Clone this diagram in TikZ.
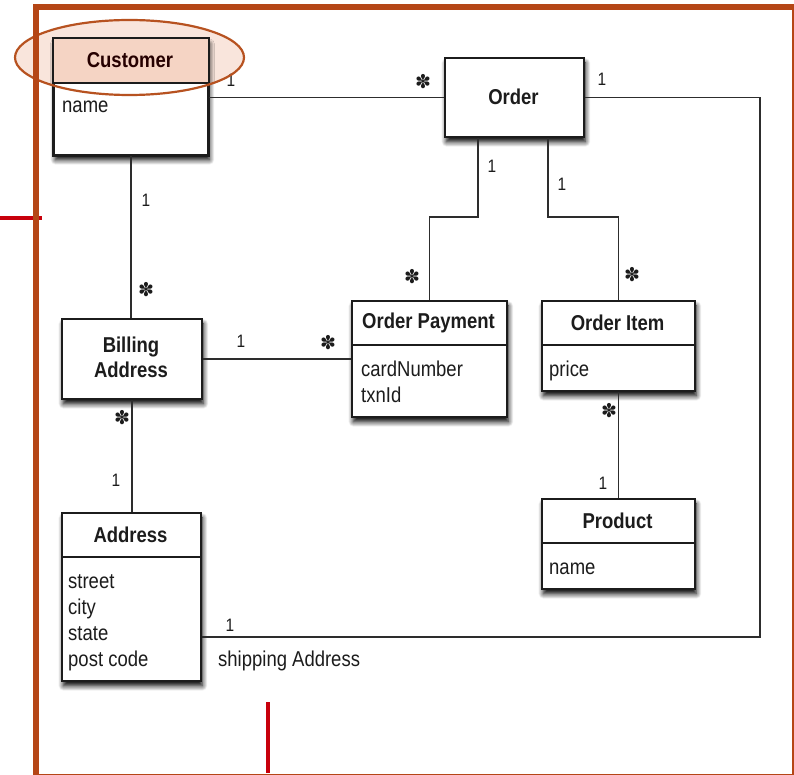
\documentclass[tikz,border=0pt]{standalone}
\usepackage{fontspec}
\setmainfont{Liberation Sans}[FakeStretch=0.86]
\newfontfamily\symfont{DejaVu Sans}
\usetikzlibrary{shadows.blur}

\definecolor{frameclr}{RGB}{181,70,22}
\definecolor{markred}{RGB}{200,0,12}
\definecolor{peach}{RGB}{245,212,196}
\definecolor{ringclr}{RGB}{183,82,32}
\definecolor{inkclr}{RGB}{28,28,28}
\definecolor{wireclr}{RGB}{45,45,45}

\tikzset{
  cls/.style={draw=inkclr, line width=1.8pt, fill=white, inner sep=0pt, anchor=north west,
    blur shadow={shadow xshift=1.5pt, shadow yshift=-5pt, shadow blur radius=5pt,
                 shadow blur steps=10, shadow opacity=100}},
  divider/.style={draw=inkclr, line width=1.5pt},
  title/.style={font=\fontsize{21.5}{25}\selectfont\bfseries, text=inkclr, align=center, inner sep=0pt},
  attr/.style={font=\fontsize{21.5}{26}\selectfont, text=inkclr, anchor=base west, inner sep=0pt},
  mult/.style={font=\fontsize{18}{20}\selectfont, text=inkclr, inner sep=0pt},
  many/.style={font=\symfont\fontsize{19}{20}\selectfont, text=inkclr, inner sep=0pt},
  wire/.style={draw=wireclr, line width=1.5pt},
  marker/.style={draw=markred, line width=4pt},
  frame/.style={draw=frameclr, line width=5.5pt},
}

\begin{document}
\begin{tikzpicture}[x=1pt, y=-1pt]
\useasboundingbox (0,0) rectangle (794,775);

% red reference ticks
\coordinate (tickA) at (0,218);
\coordinate (tickB) at (42,218);
\coordinate (tickC) at (268,702);
\coordinate (tickD) at (268,773);
\draw[marker] (tickA) -- (tickB);
\draw[marker] (tickC) -- (tickD);

% highlight ring fill behind Customer
\fill[peach, fill opacity=0.6] (129.5,57.5) ellipse [x radius=114.5, y radius=37.5];

% classes
\node[cls, minimum width=154pt, minimum height=116pt] (cust) at (53,38) {};
\fill[peach] (cust.north west) rectangle (cust.east |- 0,83);
\draw[inkclr, line width=1.8pt] (cust.north west) rectangle (cust.south east);
\draw[divider] (cust.west |- 0,83) -- (cust.east |- 0,83);

\node[cls, minimum width=139pt, minimum height=79pt] (ord) at (444,57) {};
\node[cls, minimum width=155pt, minimum height=116pt] (pay) at (351,300) {};
\draw[divider] (pay.west |- 0,345) -- (pay.east |- 0,345);
\node[cls, minimum width=153pt, minimum height=90pt] (item) at (541,300) {};
\draw[divider] (item.west |- 0,345) -- (item.east |- 0,345);
\node[cls, minimum width=140pt, minimum height=80pt] (bill) at (61,318) {};
\node[cls, minimum width=139pt, minimum height=168pt] (addr) at (61,512) {};
\draw[divider] (addr.west |- 0,557) -- (addr.east |- 0,557);
\node[cls, minimum width=153pt, minimum height=90pt] (prod) at (541,498) {};
\draw[divider] (prod.west |- 0,543) -- (prod.east |- 0,543);

% class titles
\node[title, text=black!85!red] (custT) at (130,60.5) {Customer};
\node[title] (ordT) at (513.5,97) {Order};
\node[title] (payT) at (428.5,322.5) {Order Payment};
\node[title] (itemT) at (617.5,322.5) {Order Item};
\node[title] (billT) at (131,357) {Billing\\Address};
\node[title] (addrT) at (130.5,534.5) {Address};
\node[title] (prodT) at (617.5,520.5) {Product};

% attributes, one line each
\node[attr] (custA) at (62,113) {name};
\node[attr] (payA1) at (361,376) {cardNumber};
\node[attr] (payA2) at (361,402) {txnId};
\node[attr] (itemA) at (549,376) {price};
\node[attr] (addrA1) at (68,588) {street};
\node[attr] (addrA2) at (68,614) {city};
\node[attr] (addrA3) at (68,640) {state};
\node[attr] (addrA4) at (68,666) {post code};
\node[attr] (prodA) at (549,574) {name};

% associations
\draw[wire] (ord.west) -- (ord.west -| cust.east);
\coordinate (turn) at (760,637);
\draw[wire] (ord.east) -| (turn) -- (turn -| addr.east);
\coordinate (jl) at (478,217);
\coordinate (jr) at (548,217);
\draw[wire] (jl |- ord.south) -- (jl) -| (pay.north);
\draw[wire] (jr |- ord.south) -- (jr) -| (item.north);
\draw[wire] (cust.south) -- (cust.south |- bill.north);
\draw[wire] (bill.east) -- (bill.east -| pay.west);
\draw[wire] (bill.south) -- (bill.south |- addr.north);
\draw[wire] (item.south) -- (item.south |- prod.north);

% multiplicities
\node[mult] (m1) at (231,80) {1};
\node[many] (m2) at (423,82) {✽};
\node[mult] (m3) at (602,79) {1};
\node[mult] (m4) at (492,166) {1};
\node[mult] (m5) at (562,184) {1};
\node[many] (m6) at (412,277) {✽};
\node[many] (m7) at (632,275) {✽};
\node[mult] (m8) at (146,200) {1};
\node[many] (m9) at (146,290) {✽};
\node[mult] (m10) at (241,341) {1};
\node[many] (m11) at (328,343) {✽};
\node[many] (m12) at (122,418) {✽};
\node[mult] (m13) at (116,480) {1};
\node[mult] (m14) at (230,625) {1};
\node[many] (m15) at (609,411) {✽};
\node[mult] (m16) at (603,483) {1};
\node[attr] (shipL) at (218,666) {shipping Address};

% highlight ring outline
\draw[ringclr, line width=2.2pt] (129.5,57.5) ellipse [x radius=114.5, y radius=37.5];

% outer frame
\draw[frame] (36,7) rectangle (795,776.5);
\end{tikzpicture}
\end{document}
